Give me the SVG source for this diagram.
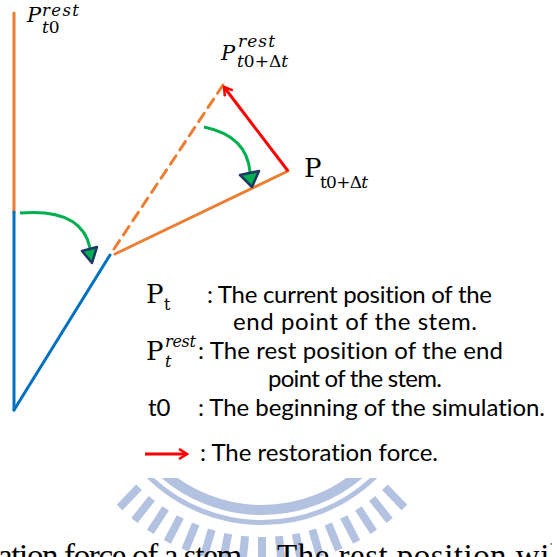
<svg xmlns="http://www.w3.org/2000/svg" width="552" height="557" viewBox="0 0 552 557">
<style>
.stem{fill:none;stroke-width:3;stroke-linecap:round}
.orange{stroke:#ed7d31}
.blue{stroke:#0070c0}
.red{stroke:#ff0000;fill:none;stroke-width:3}
.turn{fill:none;stroke:#00b050;stroke-width:3}
.tip{fill:#00b050;stroke:#203864;stroke-width:2.5;stroke-linejoin:round}
.math{font-family:"DejaVu Serif","Liberation Serif",serif;fill:#000}
.it{font-style:italic}
.leg{font-family:Lato,"Open Sans","Liberation Sans",sans-serif;font-size:24px;fill:#000;font-variant-ligatures:none;font-feature-settings:"liga" 0,"clig" 0}
.wm{fill:none;stroke:#b3c2e1}
.body{font-family:"Liberation Serif","Times New Roman",serif;font-size:33px;fill:#000}
</style>
<defs>
<marker id="chev" viewBox="0 0 12 12" refX="10" refY="6" markerWidth="12" markerHeight="12" markerUnits="userSpaceOnUse" orient="auto">
<polyline points="2,1 10,6 2,11" fill="none" stroke="#ff0000" stroke-width="2.5"/>
</marker>
<clipPath id="wmclip"><rect x="0" y="478" width="552" height="79"/></clipPath>
</defs>
<rect width="552" height="557" fill="#ffffff"/>

<g id="watermark" clip-path="url(#wmclip)">
<g transform="translate(262,360)">
<circle class="wm" r="150" stroke-width="10"/>
<circle class="wm" r="162.5" stroke-width="5"/>
<g class="wm" stroke-width="8">
<line x1="0" y1="177" x2="0" y2="205" transform="rotate(-44)"/>
<line x1="0" y1="177" x2="0" y2="205" transform="rotate(-38.5)"/>
<line x1="0" y1="177" x2="0" y2="205" transform="rotate(-33)"/>
<line x1="0" y1="177" x2="0" y2="205" transform="rotate(-27.5)"/>
<line x1="0" y1="177" x2="0" y2="205" transform="rotate(-22)"/>
<line x1="0" y1="177" x2="0" y2="205" transform="rotate(-16.5)"/>
<line x1="0" y1="177" x2="0" y2="205" transform="rotate(-11)"/>
<line x1="0" y1="177" x2="0" y2="205" transform="rotate(-5.5)"/>
<line x1="0" y1="177" x2="0" y2="205"/>
<line x1="0" y1="177" x2="0" y2="205" transform="rotate(5.5)"/>
<line x1="0" y1="177" x2="0" y2="205" transform="rotate(11)"/>
<line x1="0" y1="177" x2="0" y2="205" transform="rotate(16.5)"/>
<line x1="0" y1="177" x2="0" y2="205" transform="rotate(22)"/>
<line x1="0" y1="177" x2="0" y2="205" transform="rotate(27.5)"/>
<line x1="0" y1="177" x2="0" y2="205" transform="rotate(33)"/>
<line x1="0" y1="177" x2="0" y2="205" transform="rotate(38.5)"/>
<line x1="0" y1="177" x2="0" y2="205" transform="rotate(44)"/>
</g>
</g>
</g>

<g id="connectors">
<line class="stem orange" x1="14" y1="13" x2="14" y2="212"/>
<line class="stem blue" x1="14" y1="212" x2="14" y2="410"/>
<line class="stem blue" x1="14" y1="410" x2="110" y2="255"/>
<line class="stem orange" x1="115" y1="254" x2="288" y2="171"/>
<line class="stem orange" x1="114" y1="249" x2="223" y2="85" stroke-dasharray="10 7" stroke-linecap="butt"/>
<line class="red" x1="288" y1="171" x2="224" y2="87" marker-end="url(#chev)"/>
<path class="turn" d="M20,213 Q82,208 90,248"/>
<polygon class="tip" points="82,251 97,247 92,263"/>
<path class="turn" d="M204,127 Q247,136 250,172"/>
<polygon class="tip" points="240,175 259,171 252,187"/>
</g>

<g id="label-p-t0-rest">
<text class="math it" x="27" y="22" font-size="21">P</text>
<text class="math it" x="42" y="15.5" font-size="16.5" textLength="37">rest</text>
<text class="math" x="42" y="33" font-size="17"><tspan class="it">t</tspan>0</text>
</g>

<g id="label-p-rest-next">
<text class="math it" x="221" y="60" font-size="21">P</text>
<text class="math it" x="238" y="47" font-size="17" textLength="37">rest</text>
<text class="math" x="237" y="67" font-size="17" textLength="51"><tspan class="it">t</tspan>0+Δ<tspan class="it">t</tspan></text>
</g>

<g id="label-p-next">
<text class="math" x="304" y="177" font-size="26">P</text>
<text class="math" x="320" y="188" font-size="17" textLength="48">t0+Δ<tspan class="it">t</tspan></text>
</g>

<g id="legend">
<text class="math" x="146" y="303" font-size="26">P</text>
<text class="math" x="164" y="310" font-size="16">t</text>
<text class="leg" x="207" y="303" textLength="285">: The current position of the</text>
<text class="leg" x="233" y="330" textLength="244">end point of the stem.</text>
<text class="math" x="146" y="360" font-size="26">P</text>
<text class="math it" x="165" y="347" font-size="16" textLength="31">rest</text>
<text class="math it" x="165" y="367" font-size="16">t</text>
<text class="leg" x="198" y="359" textLength="305">: The rest position of the end</text>
<text class="leg" x="268" y="387" textLength="174">point of the stem.</text>
<text class="leg" x="148" y="416">t0</text>
<text class="leg" x="198" y="416" textLength="347">: The beginning of the simulation.</text>
<line class="red" x1="145" y1="454" x2="187" y2="454" marker-end="url(#chev)"/>
<text class="leg" x="200" y="461" textLength="238">: The restoration force.</text>
</g>

<g id="body-text">
<text class="body" x="-2" y="567" textLength="251">ation force of a stem.</text>
<text class="body" x="277" y="567" textLength="282">The rest position wil</text>
</g>
</svg>
